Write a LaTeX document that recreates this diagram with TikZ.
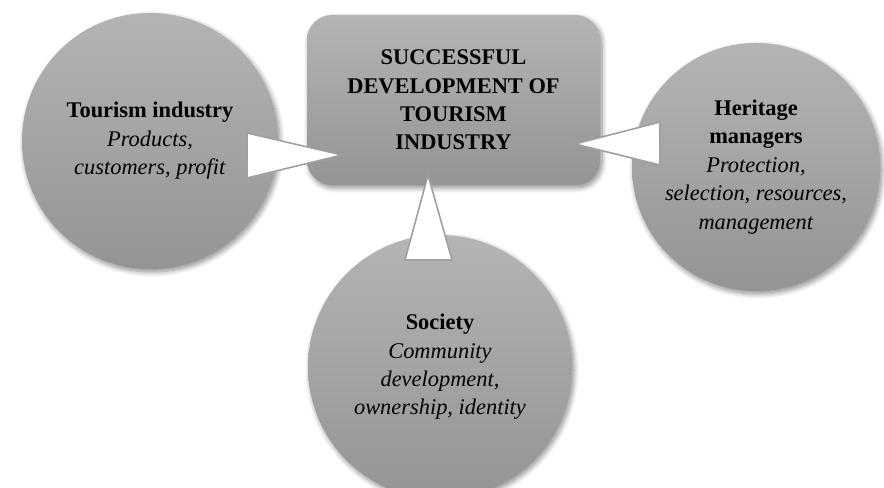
\documentclass[tikz,border=0pt]{standalone}
\usepackage{fontspec}
\setmainfont{Liberation Serif}
\usetikzlibrary{shadows.blur}
\definecolor{gtop}{RGB}{180,180,180}
\definecolor{gbot}{RGB}{148,148,148}
\definecolor{tribord}{RGB}{160,160,160}
\tikzset{
  blob/.style={circle, inner sep=0pt, align=center, top color=gtop, bottom color=gbot,
    blur shadow={shadow blur steps=8, shadow xshift=2bp, shadow yshift=-3bp, shadow opacity=45, shadow blur radius=5bp},
    font=\fontsize{22.5}{28.5}\selectfont},
  centrebox/.style={rectangle, rounded corners=25bp, inner sep=0pt, align=center, top color=gtop, bottom color=gbot,
    blur shadow={shadow blur steps=8, shadow xshift=2bp, shadow yshift=-3bp, shadow opacity=45, shadow blur radius=5bp},
    font=\fontsize{22.5}{28.5}\selectfont\bfseries},
  pointer/.style={fill=white, draw=tribord, line width=1.6bp, line join=miter}
}
\begin{document}
\begin{tikzpicture}[x=1bp,y=1bp]
\useasboundingbox (0,0) rectangle (884,488);
\clip (0,0) rectangle (884,488);
\node[blob, minimum size=256bp] (tour) at (150,347) {\textbf{Tourism industry}\\\textit{Products,}\\\textit{customers, profit}};
\node[blob, minimum size=248bp] (herit) at (756,321) {\textbf{Heritage}\\\textbf{managers}\\\textit{Protection,}\\\textit{selection, resources,}\\\textit{management}};
\node[blob, minimum size=264bp] (soc) at (440,121) {\textbf{Society}\\\textit{Community}\\\textit{development,}\\\textit{ownership, identity}};
\node[centrebox, minimum width=293bp, minimum height=170bp] (goal) at (453.5,388) {SUCCESSFUL\\DEVELOPMENT OF\\TOURISM\\INDUSTRY};
% pointers
\coordinate (lt1) at (247,355); \coordinate (lt2) at (247,310); \coordinate (ltip) at (342,333);
\coordinate (rt1) at (660,366); \coordinate (rt2) at (660,323); \coordinate (rtip) at (575,344);
\coordinate (bt1) at (405,228); \coordinate (bt2) at (452,228); \coordinate (btip) at (428,313);
\draw[pointer] (lt1) -- (ltip) -- (lt2) -- cycle;
\draw[pointer] (rt1) -- (rtip) -- (rt2) -- cycle;
\draw[pointer] (bt1) -- (btip) -- (bt2) -- cycle;
\end{tikzpicture}
\end{document}
